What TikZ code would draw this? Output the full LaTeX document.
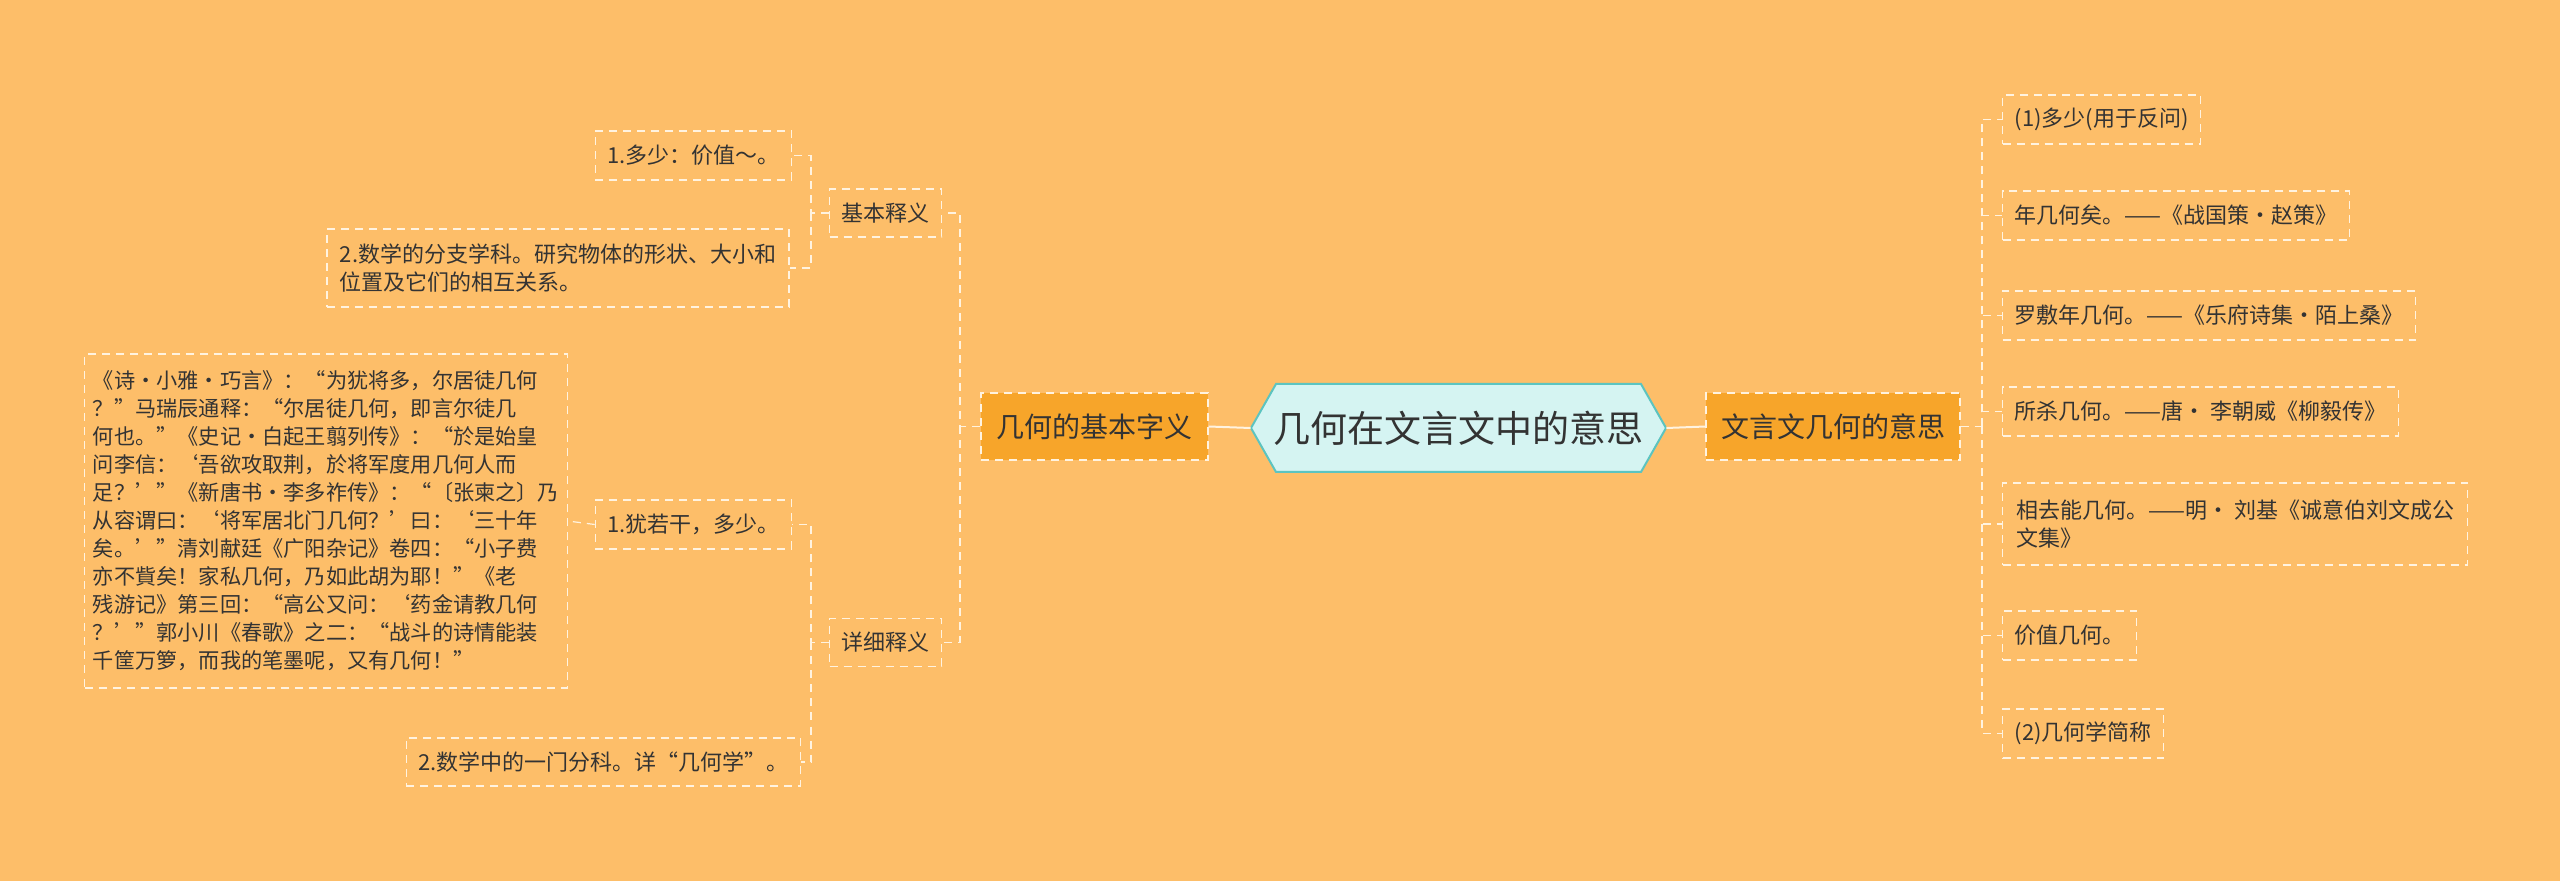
\documentclass[tikz,border=0pt]{standalone}
\usepackage{fontspec}
\setmainfont{Noto Sans CJK SC}
\definecolor{bg}{HTML}{FDBE69}
\definecolor{mainfill}{HTML}{F7A52A}
\definecolor{cfill}{HTML}{D5F4F2}
\definecolor{cline}{HTML}{5CC4C0}
\definecolor{txt}{HTML}{333333}
\definecolor{ln}{HTML}{FFF3E0}
\begin{document}
\begin{tikzpicture}[x=0.5pt,y=-0.5pt,
  leaf/.style={draw=ln,dashed,dash pattern=on 4pt off 3pt,line width=0.6pt,text=txt,font=\fontsize{11}{14}\selectfont,align=left,inner xsep=6pt,inner ysep=0pt,anchor=center},
  mainbox/.style={draw=ln,dashed,dash pattern=on 4pt off 3pt,line width=0.6pt,fill=mainfill,text=txt,font=\fontsize{14}{17}\selectfont,inner sep=0pt},
  conn/.style={draw=ln,dashed,dash pattern=on 4pt off 3pt,line width=0.6pt},
  solidc/.style={draw=ln,line width=1pt}]
\fill[bg] (0,0) rectangle (2560,881);
\useasboundingbox (0,0) rectangle (2560,881);
% center
\node[text=txt,font=\fontsize{18.5}{22}\selectfont,minimum width=415*0.5pt,minimum height=88*0.5pt,inner sep=0pt] (c) at (1458.5,428) {几何在文言文中的意思};
\draw[fill=cfill,draw=cline,line width=1pt] (1251,428) -- (1276,384) -- (1641,384) -- (1666,428) -- (1641,472) -- (1276,472) -- cycle;
\node[text=txt,font=\fontsize{18.5}{22}\selectfont] at (c) {几何在文言文中的意思};
% main nodes
\node[mainbox,minimum width=227*0.5pt,minimum height=67*0.5pt] (L) at (1094.5,426.5) {几何的基本字义};
\node[mainbox,minimum width=254*0.5pt,minimum height=67*0.5pt] (R) at (1833,426.5) {文言文几何的意思};
\draw[solidc] (c.west) -- (L.east);
\draw[solidc] (c.east) -- (R.west);
% left subs
\node[leaf,minimum width=111*0.5pt,minimum height=48*0.5pt,align=center] (s1) at (885.5,213) {基本释义};
\node[leaf,minimum width=111*0.5pt,minimum height=48*0.5pt,align=center] (s2) at (885.5,642.5) {详细释义};
\node[leaf,minimum width=191*0.5pt,minimum height=49*0.5pt] (a1) at (693.5,155.5) {1.多少：价值～。};
\node[leaf,minimum width=462*0.5pt,minimum height=78*0.5pt] (a2) at (558,268) {2.数学的分支学科。研究物体的形状、大小和\\位置及它们的相互关系。};
\node[leaf,minimum width=191*0.5pt,minimum height=49*0.5pt] (b1) at (693.5,524.5) {1.犹若干，多少。};
\node[leaf,font=\fontsize{10.6}{14}\selectfont,inner xsep=4pt,minimum width=462*0.5pt,minimum height=334*0.5pt] (b1t) at (326,521) {《诗·小雅·巧言》：“为犹将多，尔居徒几何\\？”马瑞辰通释：“尔居徒几何，即言尔徒几\\何也。”《史记·白起王翦列传》：“於是始皇\\问李信：‘吾欲攻取荆，於将军度用几何人而\\足？’”《新唐书·李多祚传》：“〔张柬之〕乃\\从容谓曰：‘将军居北门几何？’曰：‘三十年\\矣。’”清刘献廷《广阳杂记》卷四：“小子费\\亦不貲矣！家私几何，乃如此胡为耶！”《老\\残游记》第三回：“高公又问：‘药金请教几何\\？’”郭小川《春歌》之二：“战斗的诗情能装\\千筐万箩，而我的笔墨呢，又有几何！”};
\node[leaf,minimum width=371*0.5pt,minimum height=48*0.5pt] (b2) at (603.5,762) {2.数学中的一门分科。详“几何学”。};
% left connectors
\draw[conn] (L.west) -- (960,426.5) |- (s1.east);
\draw[conn] (960,426.5) |- (s2.east);
\draw[conn] (s1.west) -- (811,213) |- (a1.east);
\draw[conn] (811,213) |- (a2.east);
\draw[conn] (s2.west) -- (811,642.5) |- (b1.east);
\draw[conn] (811,642.5) |- (b2.east);
\draw[conn] (b1.west) -- (b1t.east);
% right leaves
\node[leaf,minimum width=193*0.5pt,minimum height=49*0.5pt,anchor=west] (r1) at (2002,119.5) {(1)多少(用于反问)};
\node[leaf,minimum width=343*0.5pt,minimum height=49*0.5pt,anchor=west] (r2) at (2002,215.5) {年几何矣。——《战国策·赵策》};
\node[leaf,minimum width=408*0.5pt,minimum height=49*0.5pt,anchor=west] (r3) at (2002,315.5) {罗敷年几何。——《乐府诗集·陌上桑》};
\node[leaf,minimum width=394*0.5pt,minimum height=49*0.5pt,anchor=west] (r4) at (2002,411.5) {所杀几何。——唐· 李朝威《柳毅传》};
\node[leaf,minimum width=465*0.5pt,minimum height=82*0.5pt,anchor=west] (r5) at (2002,524) {相去能几何。——明· 刘基《诚意伯刘文成公\\文集》};
\node[leaf,minimum width=133*0.5pt,minimum height=49*0.5pt,anchor=west] (r6) at (2002,635.5) {价值几何。};
\node[leaf,minimum width=161*0.5pt,minimum height=49*0.5pt,anchor=west] (r7) at (2002,733.5) {(2)几何学简称};
\draw[conn] (R.east) -- (1982,426.5);
\foreach \n in {r1,r2,r3,r4,r5,r6,r7}{\draw[conn] (1982,426.5) |- (\n.west);}
\end{tikzpicture}
\end{document}
